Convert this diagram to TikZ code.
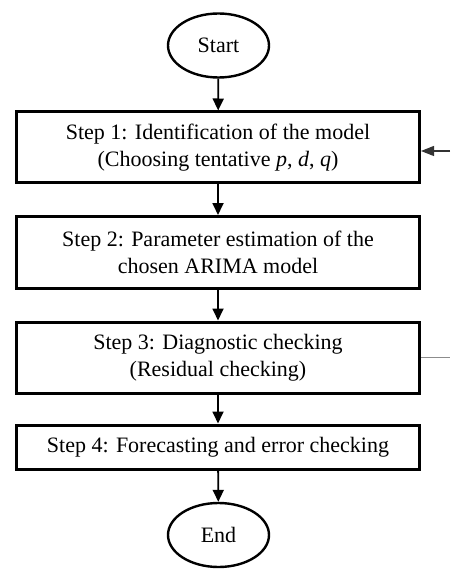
\documentclass[tikz,border=0pt]{standalone}
\usepackage{fontspec}
\setmainfont{Liberation Serif}
\usetikzlibrary{arrows.meta,shapes.geometric}
\begin{document}
\begin{tikzpicture}[x=1pt,y=-1pt,
  stepbox/.style={draw, line width=3pt, minimum width=403pt, align=center,
    inner sep=0pt, font=\fontsize{22}{27}\selectfont},
  term/.style={draw, ellipse, line width=2.4pt, minimum width=101pt,
    minimum height=64pt, inner sep=0pt, font=\fontsize{22}{27}\selectfont},
  flow/.style={-{Triangle[length=12pt,width=11pt]}, line width=1.8pt},
  back/.style={-{Triangle[length=13pt,width=10pt]}, line width=1.1pt, black!80},
  tail/.style={line width=1.1pt, black!45}]
\useasboundingbox (0,0) rectangle (450,569);
\node[term] (start) at (218.5,45.5) {Start};
\node[stepbox, minimum height=71pt] (s1) at (218,147.5)
  {Step 1: Identification of the model\\(Choosing tentative \textit{p}, \textit{d}, \textit{q})};
\node[stepbox, minimum height=72pt] (s2) at (218,252.5)
  {Step 2: Parameter estimation of the\\chosen ARIMA model};
\node[stepbox, minimum height=71pt] (s3) at (218,357.5)
  {Step 3: Diagnostic checking\\(Residual checking)};
\node[stepbox, minimum height=44pt] (s4) at (218,447)
  {Step 4: Forecasting and error checking};
\node[term] (end) at (218.5,535) {End};
\draw[flow] (start) -- (s1);
\draw[flow] (s1) -- (s2);
\draw[flow] (s2) -- (s3);
\draw[flow] (s3) -- (s4);
\draw[flow] (s4) -- (end);
\coordinate (fbin) at (450,151);
\coordinate (fbout) at (450,357.5);
\draw[back] (fbin) -- (fbin -| s1.east);
\draw[tail] (s3.east) -- (fbout);
\end{tikzpicture}
\end{document}
